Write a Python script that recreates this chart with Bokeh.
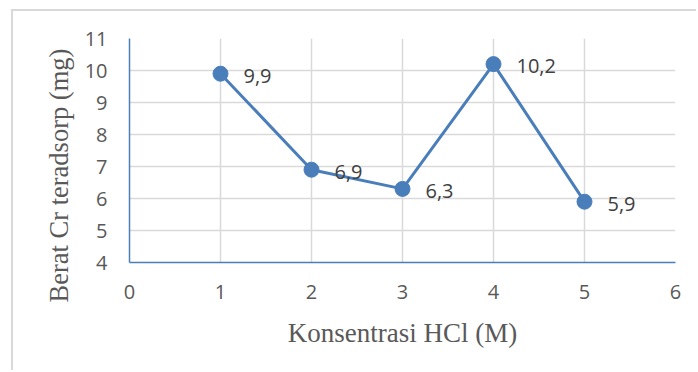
from bokeh.plotting import figure
from bokeh.models import ColumnDataSource, Range1d, FixedTicker, Title
from bokeh.core.properties import value
from bokeh.embed import file_html
from bokeh.resources import INLINE

# data
konsentrasi = [1, 2, 3, 4, 5]
berat = [9.9, 6.9, 6.3, 10.2, 5.9]
labels = [f"{v:.1f}".replace(".", ",") for v in berat]
x_ticks = [0, 1, 2, 3, 4, 5, 6]
y_ticks = [4, 5, 6, 7, 8, 9, 10, 11]
x_title = "Konsentrasi HCl (M)"
y_title = "Berat Cr teradsorp (mg)"

BLUE = "#4a7ebb"
GRID = "#d9d9d9"
TICK = "#595959"
TXT = "#404040"
SANS = "Open Sans"
SERIF = "Liberation Serif"

src = ColumnDataSource(dict(x=konsentrasi, y=berat, lab=labels))

p = figure(width=685, height=361, output_backend="svg", toolbar_location=None,
           x_range=Range1d(0, 6), y_range=Range1d(4, 11),
           min_border_left=116, min_border_right=23, min_border_top=27, min_border_bottom=110)
p.styles = {"margin-left": "11px", "margin-top": "9px",
            "border-left": "2px solid #d9d9d9", "border-top": "2px solid #d9d9d9"}
p.outline_line_color = None
p.background_fill_color = "white"
p.border_fill_color = "white"

p.xaxis.ticker = FixedTicker(ticks=x_ticks)
p.yaxis.ticker = FixedTicker(ticks=y_ticks)
for ax in (p.xaxis, p.yaxis):
    ax.axis_line_color = BLUE
    ax.axis_line_width = 1.5
    ax.major_tick_line_color = None
    ax.minor_tick_line_color = None
    ax.major_tick_in = 0
    ax.major_tick_out = 0
    ax.major_label_text_font = SANS
    ax.major_label_text_font_size = "20px"
    ax.major_label_text_color = TICK
p.xaxis.major_label_standoff = 22
p.yaxis.major_label_standoff = 22
p.xaxis.axis_label = x_title
p.xaxis.axis_label_standoff = 16
p.xaxis.axis_label_text_font = SERIF
p.xaxis.axis_label_text_font_size = "27px"
p.xaxis.axis_label_text_font_style = "normal"
p.xaxis.axis_label_text_color = TICK

p.add_layout(Title(text=y_title, align="left", offset=-40, standoff=16, text_font=SERIF,
                   text_font_size="26.5px", text_font_style="normal", text_color=TICK), "left")

p.xgrid.ticker = FixedTicker(ticks=x_ticks)
p.ygrid.ticker = FixedTicker(ticks=y_ticks)
for g in (p.xgrid, p.ygrid):
    g.grid_line_color = GRID
    g.grid_line_width = 1.5

p.line("x", "y", source=src, line_color=BLUE, line_width=3)
p.scatter("x", "y", source=src, size=15, fill_color=BLUE, line_color=BLUE)
p.text("x", "y", text="lab", source=src, x_offset=23, y_offset=2,
       text_font=value(SANS), text_font_size="20px", text_color=TXT,
       text_align="left", text_baseline="middle")

open("out.html", "w").write(file_html(p, INLINE))
